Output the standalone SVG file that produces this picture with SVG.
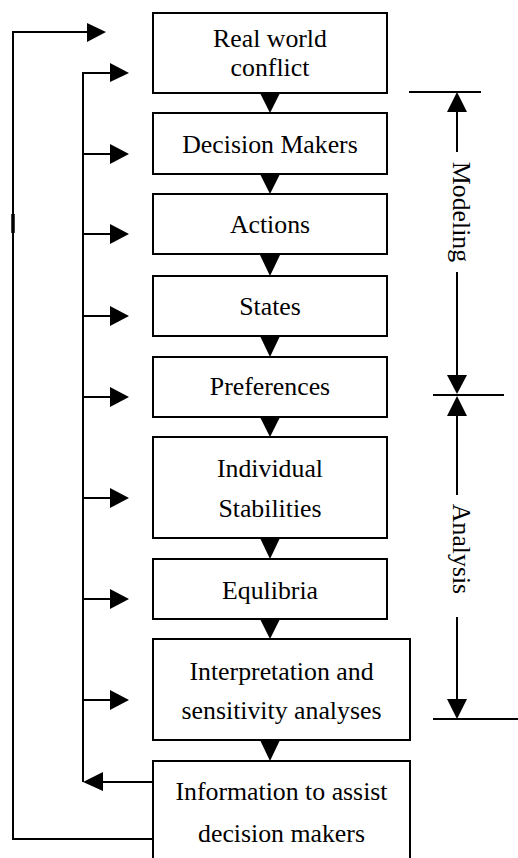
<svg xmlns="http://www.w3.org/2000/svg" width="518" height="858" viewBox="0 0 518 858">
<style>
.box{fill:#fff;stroke:#000;stroke-width:2}
.ln{fill:none;stroke:#000;stroke-width:2}
.ah{fill:#000;stroke:none}
text{font-family:"Liberation Serif","Times New Roman",serif;font-size:25.8px;fill:#000}
.c{text-anchor:middle}
</style>
<rect width="518" height="858" fill="#fff"/>
<g id="connectors">
  <!-- outer feedback -->
  <path class="ln" d="M153,839 H13 V32 H88"/>
  <line x1="13" y1="214" x2="13" y2="233" stroke="#000" stroke-width="3.5"/>
  <polygon class="ah" points="87,23 106,32 87,42"/>
  <!-- inner feedback -->
  <path class="ln" d="M153,782 H100"/>
  <polygon class="ah" points="103,772 83,782 103,791"/>
  <path class="ln" d="M83,782 V73 H112"/>
  <polygon class="ah" points="110,63 129,73 110,82"/>
  <g>
    <path class="ln" d="M83,154 H112 M83,234 H112 M83,316 H112 M83,397 H112 M83,498 H112 M83,599 H112 M83,700 H112"/>
    <polygon class="ah" points="110,144 129,154 110,164"/>
    <polygon class="ah" points="110,224 129,234 110,244"/>
    <polygon class="ah" points="110,306 129,316 110,326"/>
    <polygon class="ah" points="110,387 129,397 110,407"/>
    <polygon class="ah" points="110,488 129,498 110,508"/>
    <polygon class="ah" points="110,589 129,599 110,609"/>
    <polygon class="ah" points="110,690 129,700 110,710"/>
  </g>
  <!-- down arrows between boxes -->
  <polygon class="ah" points="260,93 280,93 270,113"/>
  <polygon class="ah" points="260,174 280,174 270,194"/>
  <polygon class="ah" points="260,255 280,255 270,276"/>
  <polygon class="ah" points="260,336 280,336 270,357"/>
  <polygon class="ah" points="260,417 280,417 270,437"/>
  <polygon class="ah" points="260,538 280,538 270,559"/>
  <polygon class="ah" points="260,619 280,619 270,639"/>
  <polygon class="ah" points="260,740 280,740 270,761"/>
  <!-- Modeling / Analysis dimension lines -->
  <line class="ln" x1="409" y1="92" x2="481" y2="92"/>
  <line class="ln" x1="433" y1="395" x2="504" y2="395"/>
  <line class="ln" x1="433" y1="719" x2="518" y2="719"/>
  <line class="ln" x1="457" y1="110" x2="457" y2="152"/>
  <polygon class="ah" points="447,112 457,92 467,112"/>
  <line class="ln" x1="457" y1="272" x2="457" y2="377"/>
  <polygon class="ah" points="447,375 467,375 457,394"/>
  <line class="ln" x1="457" y1="414" x2="457" y2="495"/>
  <polygon class="ah" points="447,416 457,396 467,416"/>
  <line class="ln" x1="457" y1="617" x2="457" y2="701"/>
  <polygon class="ah" points="447,699 467,699 457,719"/>
</g>
<g id="n1"><rect class="box" x="153" y="13" width="234" height="80"/><text class="c" x="270" y="47">Real world</text><text class="c" x="270" y="76">conflict</text></g>
<g id="n2"><rect class="box" x="153" y="113" width="234" height="61"/><text class="c" x="270" y="153">Decision Makers</text></g>
<g id="n3"><rect class="box" x="153" y="194" width="234" height="60"/><text class="c" x="270" y="233">Actions</text></g>
<g id="n4"><rect class="box" x="153" y="276" width="234" height="60"/><text class="c" x="270" y="315">States</text></g>
<g id="n5"><rect class="box" x="153" y="357" width="234" height="60"/><text class="c" x="270" y="395">Preferences</text></g>
<g id="n6"><rect class="box" x="153" y="437" width="234" height="101"/><text class="c" x="270" y="477">Individual</text><text class="c" x="270" y="517">Stabilities</text></g>
<g id="n7"><rect class="box" x="153" y="559" width="234" height="60"/><text class="c" x="270" y="599">Equlibria</text></g>
<g id="n8"><rect class="box" x="153" y="639" width="257" height="101"/><text class="c" x="281.5" y="680">Interpretation and</text><text class="c" x="281.5" y="719">sensitivity analyses</text></g>
<g id="n9"><rect class="box" x="153" y="761" width="257" height="120"/><text class="c" x="281.5" y="800">Information to assist</text><text class="c" x="281.5" y="842">decision makers</text></g>
<g id="labels">
  <text class="c" transform="translate(453,212) rotate(90)">Modeling</text>
  <text class="c" transform="translate(453,549) rotate(90)">Analysis</text>
</g>
</svg>
